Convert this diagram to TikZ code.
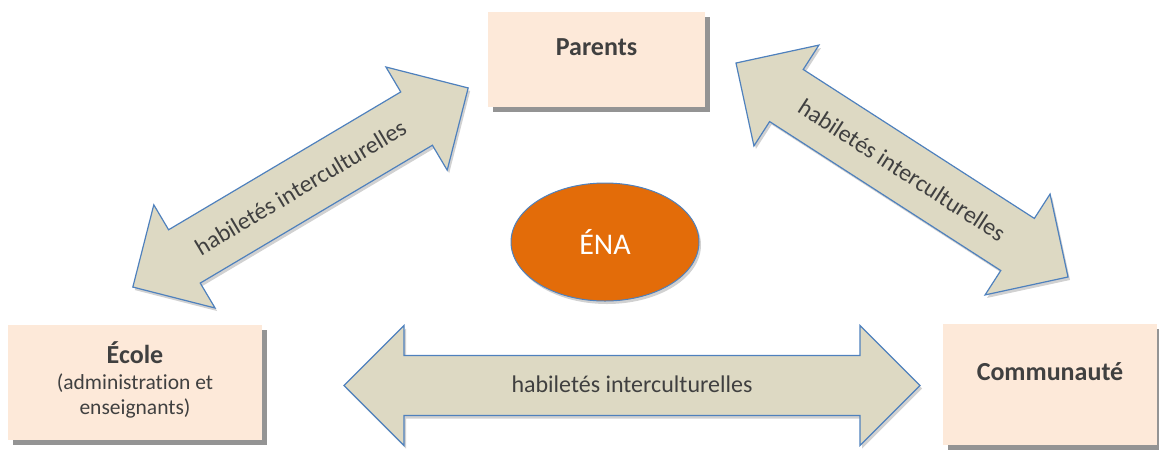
\documentclass[tikz,border=0pt]{standalone}
\usepackage{fontspec}
\setmainfont{Carlito}[Ligatures={NoCommon}]
\usetikzlibrary{shadows,shapes.geometric}
\definecolor{boxfill}{HTML}{FDE9D9}
\definecolor{arrowfill}{HTML}{DDD9C3}
\definecolor{blueline}{HTML}{4F81BD}
\definecolor{enafill}{HTML}{E36C09}
\definecolor{txt}{HTML}{404040}
\begin{document}
\begin{tikzpicture}[x=1pt,y=-1pt,
  box/.style={rectangle, fill=boxfill, draw=none, inner sep=0pt,
    drop shadow={shadow xshift=5pt, shadow yshift=-5pt, fill=black!42, opacity=1}},
  boldlbl/.style={font=\fontsize{26}{31}\selectfont\bfseries, text=txt, inner sep=0pt},
  reglbl/.style={font=\fontsize{21.5}{25}\selectfont, text=txt, inner sep=0pt, align=center},
  blockarrow/.style={fill=arrowfill, draw=blueline, line width=1.2pt, line join=miter,
    drop shadow={shadow xshift=2pt, shadow yshift=-3pt, fill=black, opacity=0.18}},
  arrowtext/.style={font=\fontsize{24}{28}\selectfont, text=txt, inner sep=0pt},
  enastyle/.style={ellipse, fill=enafill, draw=blueline, line width=1pt,
    minimum width=188pt, minimum height=118pt, inner sep=0pt,
    text=white, font=\fontsize{30}{36}\selectfont,
    drop shadow={shadow xshift=2pt, shadow yshift=-3pt, fill=black, opacity=0.18}}
]
\useasboundingbox (0,0) rectangle (1159,451);

% boxes
\node[box, minimum width=217pt, minimum height=95pt] (parents) at (596.5,59.5) {};
\node[boldlbl] (parentsT) at (596.5,47) {Parents};

\node[box, minimum width=254pt, minimum height=115pt] (ecole) at (135,382.5) {};
\node[boldlbl] (ecoleT) at (135,353) {École};
\node[reglbl] (ecoleS) at (135,396) {(administration et\\enseignants)};

\node[box, minimum width=214pt, minimum height=121pt] (commu) at (1050,384.5) {};
\node[boldlbl] (commuT) at (1050,372) {Communauté};

% ellipse
\node[enastyle] (ena) at (605,242) {ÉNA};

% left diagonal arrow
\begin{scope}[shift={(300.5,187.5)}, rotate=30.7]
  \filldraw[blockarrow] (-195,0) -- (-135,60) -- (-135,31) -- (135,31) -- (135,60)
    -- (195,0) -- (135,-60) -- (135,-31) -- (-135,-31) -- (-135,-60) -- cycle;
  \node[arrowtext, rotate=30.7] (hiL) at (0,0) {habiletés interculturelles};
\end{scope}

% right diagonal arrow
\begin{scope}[shift={(902,170)}, rotate=-32.8]
  \filldraw[blockarrow] (-197.5,0) -- (-137.5,60) -- (-137.5,31) -- (137.5,31) -- (137.5,60)
    -- (197.5,0) -- (137.5,-60) -- (137.5,-31) -- (-137.5,-31) -- (-137.5,-60) -- cycle;
  \node[arrowtext, rotate=-32.8] (hiR) at (0,0) {habiletés interculturelles};
\end{scope}

% bottom arrow
\begin{scope}[shift={(632,385.5)}]
  \filldraw[blockarrow] (-288,0) -- (-228,60) -- (-228,30) -- (228,30) -- (228,60)
    -- (288,0) -- (228,-60) -- (228,-30) -- (-228,-30) -- (-228,-60) -- cycle;
  \node[arrowtext] (hiB) at (0,-1) {habiletés interculturelles};
\end{scope}
\end{tikzpicture}
\end{document}
